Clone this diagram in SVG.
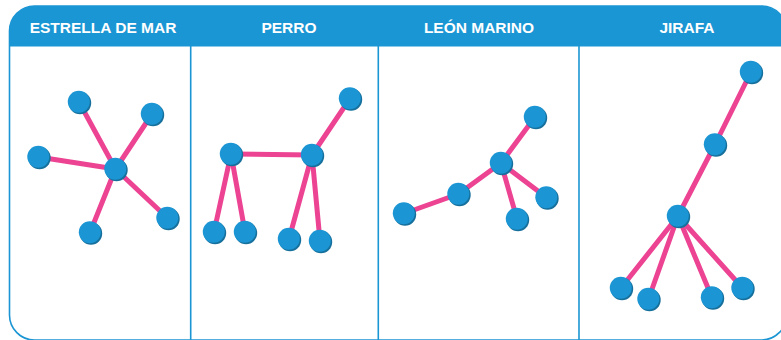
<svg xmlns="http://www.w3.org/2000/svg" width="781" height="340" viewBox="0 0 781 340">
<defs>
<clipPath id="frame"><rect x="9.5" y="6" width="777" height="334" rx="25" ry="25"/></clipPath>
</defs>
<style>
.title{font-family:"Liberation Sans",Arial,sans-serif;font-weight:bold;font-size:15.5px;fill:#ffffff;text-anchor:middle}
.edge{stroke:#ed4393;stroke-width:5;stroke-linecap:round;fill:none}
.sh{fill:#17709c}
.nd{fill:#1b95d3}
.div{stroke:#1b95d3;stroke-width:1.6}
</style>
<rect x="0" y="0" width="781" height="340" fill="#ffffff"/>
<g id="frame-box">
<rect x="9.5" y="6" width="777" height="334" rx="25" ry="25" fill="#ffffff" stroke="#1b95d3" stroke-width="1.6"/>
<rect x="0" y="0" width="790" height="46.5" fill="#1b96d4" clip-path="url(#frame)"/>
<line class="div" x1="190.7" y1="46" x2="190.7" y2="340"/>
<line class="div" x1="378.3" y1="46" x2="378.3" y2="340"/>
<line class="div" x1="579" y1="46" x2="579" y2="340"/>
</g>
<g id="titles">
<text class="title" x="103" y="33">ESTRELLA DE MAR</text>
<text class="title" x="289" y="33">PERRO</text>
<text class="title" x="479" y="33">LEÓN MARINO</text>
<text class="title" x="687" y="33">JIRAFA</text>
</g>
<g id="connectors">
<line class="edge" x1="115.5" y1="169" x2="79" y2="102"/>
<line class="edge" x1="115.5" y1="169" x2="152" y2="114"/>
<line class="edge" x1="115.5" y1="169" x2="38.5" y2="157"/>
<line class="edge" x1="115.5" y1="169" x2="167.5" y2="218"/>
<line class="edge" x1="115.5" y1="169" x2="90" y2="232.5"/>
<line class="edge" x1="231" y1="154" x2="312" y2="155"/>
<line class="edge" x1="312" y1="155" x2="350" y2="98.5"/>
<line class="edge" x1="231" y1="154" x2="214" y2="232"/>
<line class="edge" x1="231" y1="154" x2="245" y2="232"/>
<line class="edge" x1="312" y1="155" x2="289" y2="239"/>
<line class="edge" x1="312" y1="155" x2="320" y2="241"/>
<line class="edge" x1="501" y1="163" x2="535" y2="117"/>
<line class="edge" x1="501" y1="163" x2="458.5" y2="194"/>
<line class="edge" x1="458.5" y1="194" x2="404" y2="213.5"/>
<line class="edge" x1="501" y1="163" x2="517" y2="219"/>
<line class="edge" x1="501" y1="163" x2="546.5" y2="197.5"/>
<line class="edge" x1="751" y1="72" x2="715" y2="144.5"/>
<line class="edge" x1="715" y1="144.5" x2="678" y2="216"/>
<line class="edge" x1="678" y1="216" x2="621" y2="288"/>
<line class="edge" x1="678" y1="216" x2="648.5" y2="299"/>
<line class="edge" x1="678" y1="216" x2="712" y2="297.5"/>
<line class="edge" x1="678" y1="216" x2="742.5" y2="288"/>
</g>
<g id="estrella-center"><circle class="sh" cx="116.5" cy="170" r="11.2"/><circle class="nd" cx="115.3" cy="168.8" r="11"/></g>
<g id="estrella-n1"><circle class="sh" cx="80" cy="103" r="11.2"/><circle class="nd" cx="78.8" cy="101.8" r="11"/></g>
<g id="estrella-n2"><circle class="sh" cx="153" cy="115" r="11.2"/><circle class="nd" cx="151.8" cy="113.8" r="11"/></g>
<g id="estrella-n3"><circle class="sh" cx="39.5" cy="158" r="11.2"/><circle class="nd" cx="38.3" cy="156.8" r="11"/></g>
<g id="estrella-n4"><circle class="sh" cx="168.5" cy="219" r="11.2"/><circle class="nd" cx="167.3" cy="217.8" r="11"/></g>
<g id="estrella-n5"><circle class="sh" cx="91" cy="233.5" r="11.2"/><circle class="nd" cx="89.8" cy="232.3" r="11"/></g>
<g id="perro-back"><circle class="sh" cx="232" cy="155" r="11.2"/><circle class="nd" cx="230.8" cy="153.8" r="11"/></g>
<g id="perro-front"><circle class="sh" cx="313" cy="156" r="11.2"/><circle class="nd" cx="311.8" cy="154.8" r="11"/></g>
<g id="perro-head"><circle class="sh" cx="351" cy="99.5" r="11.2"/><circle class="nd" cx="349.8" cy="98.3" r="11"/></g>
<g id="perro-leg1"><circle class="sh" cx="215" cy="233" r="11.2"/><circle class="nd" cx="213.8" cy="231.8" r="11"/></g>
<g id="perro-leg2"><circle class="sh" cx="246" cy="233" r="11.2"/><circle class="nd" cx="244.8" cy="231.8" r="11"/></g>
<g id="perro-leg3"><circle class="sh" cx="290" cy="240" r="11.2"/><circle class="nd" cx="288.8" cy="238.8" r="11"/></g>
<g id="perro-leg4"><circle class="sh" cx="321" cy="242" r="11.2"/><circle class="nd" cx="319.8" cy="240.8" r="11"/></g>
<g id="leon-center"><circle class="sh" cx="502" cy="164" r="11.2"/><circle class="nd" cx="500.8" cy="162.8" r="11"/></g>
<g id="leon-top"><circle class="sh" cx="536" cy="118" r="11.2"/><circle class="nd" cx="534.8" cy="116.8" r="11"/></g>
<g id="leon-mid"><circle class="sh" cx="459.5" cy="195" r="11.2"/><circle class="nd" cx="458.3" cy="193.8" r="11"/></g>
<g id="leon-left"><circle class="sh" cx="405" cy="214.5" r="11.2"/><circle class="nd" cx="403.8" cy="213.3" r="11"/></g>
<g id="leon-bottom"><circle class="sh" cx="518" cy="220" r="11.2"/><circle class="nd" cx="516.8" cy="218.8" r="11"/></g>
<g id="leon-right"><circle class="sh" cx="547.5" cy="198.5" r="11.2"/><circle class="nd" cx="546.3" cy="197.3" r="11"/></g>
<g id="jirafa-head"><circle class="sh" cx="752" cy="73" r="11.2"/><circle class="nd" cx="750.8" cy="71.8" r="11"/></g>
<g id="jirafa-neck"><circle class="sh" cx="716" cy="145.5" r="11.2"/><circle class="nd" cx="714.8" cy="144.3" r="11"/></g>
<g id="jirafa-body"><circle class="sh" cx="679" cy="217" r="11.2"/><circle class="nd" cx="677.8" cy="215.8" r="11"/></g>
<g id="jirafa-leg1"><circle class="sh" cx="622" cy="289" r="11.2"/><circle class="nd" cx="620.8" cy="287.8" r="11"/></g>
<g id="jirafa-leg2"><circle class="sh" cx="649.5" cy="300" r="11.2"/><circle class="nd" cx="648.3" cy="298.8" r="11"/></g>
<g id="jirafa-leg3"><circle class="sh" cx="713" cy="298.5" r="11.2"/><circle class="nd" cx="711.8" cy="297.3" r="11"/></g>
<g id="jirafa-leg4"><circle class="sh" cx="743.5" cy="289" r="11.2"/><circle class="nd" cx="742.3" cy="287.8" r="11"/></g>
</svg>
